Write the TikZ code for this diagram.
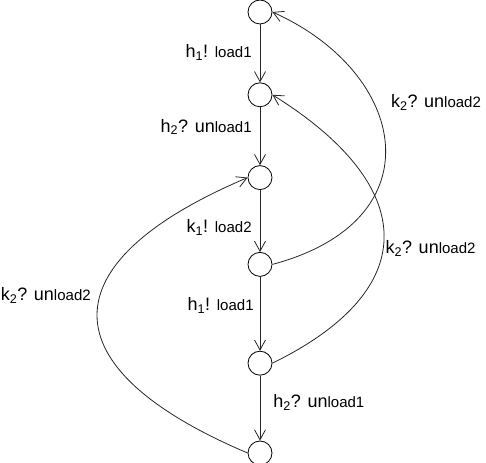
\documentclass[tikz,border=0pt]{standalone}
\usepackage{fontspec}
\setmainfont{Liberation Sans}
\usetikzlibrary{arrows.meta, positioning}
\newcommand{\lblbig}{\fontsize{18}{20}\selectfont}
\newcommand{\lblsmall}{\fontsize{15}{17}\selectfont}
\newcommand{\lidx}[1]{\textsubscript{#1}}

\begin{document}
\begin{tikzpicture}[
    x=1pt, y=1pt,
    loc/.style={circle, draw=black, line width=0.8pt,
                minimum size=24pt, inner sep=0pt},
    arr/.style={-{Straight Barb[length=10pt, width=11pt, line width=0.8pt]},
                line width=0.8pt, color=black!85},
    lbl/.style={inner sep=1pt, text=black},
  ]
    \useasboundingbox (0,0) rectangle (486,462);

    \node[loc] at (260,450) (s1) {};
    \node[loc, below=58pt of s1] (s2) {};
    \node[loc, below=58pt of s2] (s3) {};
    \node[loc, below=62pt of s3] (s4) {};
    \node[loc, below=74pt of s4] (s5) {};
    \node[loc, below=65pt of s5] (s6) {};

    % straight edges down the chain
    \draw[arr] (s1) -- node[lbl, left=7pt, pos=0.48] (e12) {\lblbig h\lidx{1}! \lblsmall load1} (s2);
    \draw[arr] (s2) -- node[lbl, left=7pt, pos=0.34] (e23) {\lblbig h\lidx{2}? un\lblsmall load1} (s3);
    \draw[arr] (s3) -- node[lbl, left=7pt, pos=0.60] (e34) {\lblbig k\lidx{1}! \lblsmall load2} (s4);
    \draw[arr] (s4) -- node[lbl, left=5pt, pos=0.39] (e45) {\lblbig h\lidx{1}! \lblsmall load1} (s5);
    \draw[arr] (s5) -- node[lbl, right=12pt, pos=0.42] (e56) {\lblbig h\lidx{2}? un\lblsmall load1} (s6);

    % back edges
    \draw[arr] (s4.east) .. controls +(165,44) and +(136,-61) ..
        node[lbl, right=16pt, pos=0.64] (b41) {\lblbig k\lidx{2}? un\lblsmall load2} (s1.east);
    \draw[arr] (s5.east) .. controls +(153,75) and +(144.5,-90) ..
        node[lbl, right=1pt, pos=0.45] (b52) {\lblbig k\lidx{2}? un\lblsmall load2} (s2.east);
    \draw[arr] (s6.west) .. controls +(-200.6,85) and +(-200.6,-85) ..
        node[lbl, left=8pt, pos=0.57] (b63) {\lblbig k\lidx{2}? un\lblsmall load2} (s3.west);
  \end{tikzpicture}
\end{document}
